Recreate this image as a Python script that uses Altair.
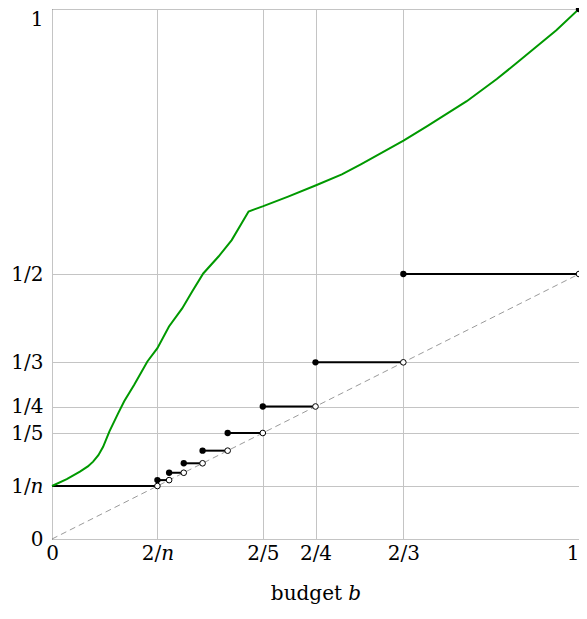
import altair as alt
import pandas as pd

# green curve
curve_x = [0, 0.028, 0.053, 0.068, 0.078, 0.088, 0.097, 0.109, 0.125, 0.137, 0.156, 0.181,
           0.200, 0.222, 0.247, 0.266, 0.287, 0.316, 0.341, 0.373, 0.401, 0.448, 0.500,
           0.550, 0.586, 0.667, 0.712, 0.787, 0.844, 0.881, 0.957, 1.0]
curve_y = [0.1, 0.113, 0.127, 0.137, 0.146, 0.158, 0.174, 0.203, 0.236, 0.260, 0.291, 0.335,
           0.360, 0.401, 0.435, 0.467, 0.501, 0.533, 0.564, 0.618, 0.628, 0.646, 0.667,
           0.688, 0.707, 0.7515, 0.779, 0.826, 0.868, 0.8975, 0.960, 1.0]

# step segments: y level, start x (filled), end x (open)
step_y = [1/2, 1/3, 1/4, 1/5, 1/6, 1/7, 1/8, 1/9, 1/10]
step_x1 = [2/3, 2/4, 2/5, 2/6, 2/7, 2/8, 2/9, 2/10, 0]
step_x2 = [2/2, 2/3, 2/4, 2/5, 2/6, 2/7, 2/8, 2/9, 2/10]

filled_x = [1, 2/3, 2/4, 2/5, 2/6, 2/7, 2/8, 2/9, 2/10]
filled_y = [1, 1/2, 1/3, 1/4, 1/5, 1/6, 1/7, 1/8, 1/9]

diag_x = [0, 1]
diag_y = [0, 0.5]

x_ticks = [0, 2/10, 2/5, 2/4, 2/3, 1]
x_labels = ["0", "2/𝑛", "2/5", "2/4", "2/3", "1"]
y_ticks = [0, 1/10, 1/5, 1/4, 1/3, 1/2, 1]
y_labels = ["0", "1/𝑛", "1/5", "1/4", "1/3", "1/2", "1"]

FONT = "DejaVu Serif"
FS = 20


def label_expr(vals, labs):
    expr = "''"
    for v, l in reversed(list(zip(vals, labs))):
        expr = f"abs(datum.value - {v:.6f}) < 1e-4 ? '{l}' : ({expr})"
    return expr


curve = pd.DataFrame({"x": curve_x, "y": curve_y})
steps = pd.DataFrame({"y": step_y, "x1": step_x1, "x2": step_x2})
filled = pd.DataFrame({"x": filled_x, "y": filled_y})
diag = pd.DataFrame({"x": diag_x, "y": diag_y})

xscale = alt.Scale(domain=[0, 1], nice=False, zero=False)
yscale = alt.Scale(domain=[0, 1], nice=False, zero=False)

xaxis = alt.Axis(values=x_ticks, labelExpr=label_expr(x_ticks, x_labels), title="budget 𝑏",
                 grid=True, gridColor="#c4c4c4", gridWidth=1, ticks=False, domain=False,
                 labelFont=FONT, labelFontSize=FS, labelColor="black", labelFlush=False,
                 labelOverlap=False, labelPadding=4,
                 labelAlign={"condition": {"test": "datum.value > 0.99", "value": "right"},
                             "value": "center"},
                 titleFont=FONT, titleFontSize=FS,
                 titleFontWeight="normal", titleColor="black",
                 titleBaseline="alphabetic", titleY=60)
yaxis = alt.Axis(values=y_ticks, labelExpr=label_expr(y_ticks, y_labels), title=None,
                 grid=True, gridColor="#c4c4c4", gridWidth=1, ticks=False, domain=False,
                 labelFont=FONT, labelFontSize=FS, labelColor="black", labelFlush=False,
                 labelOverlap=False, labelPadding=9,
                 labelBaseline={"condition": {"test": "datum.value > 0.99", "value": "top"},
                                "value": "middle"})

base_x = alt.X("x:Q", scale=xscale, axis=xaxis)
base_y = alt.Y("y:Q", scale=yscale, axis=yaxis)

diag_layer = alt.Chart(diag).mark_line(color="#808080", strokeWidth=0.8, strokeDash=[6, 4]).encode(
    x=base_x, y=base_y)

curve_layer = alt.Chart(curve).mark_line(color="#009900", strokeWidth=2).encode(
    x="x:Q", y="y:Q")

step_layer = alt.Chart(steps).mark_rule(color="black", strokeWidth=2).encode(
    x="x1:Q", x2="x2:Q", y="y:Q")

filled_layer = alt.Chart(filled).mark_point(filled=True, color="black", size=40, opacity=1,
                                            shape="circle").encode(x="x:Q", y="y:Q")

open_layer = alt.Chart(steps).mark_point(filled=True, fill="white", stroke="black", strokeWidth=1,
                                         size=32, opacity=1, shape="circle").encode(
    x="x2:Q", y="y:Q")

chart = alt.layer(diag_layer, step_layer, curve_layer, filled_layer, open_layer).properties(
    width=527, height=530,
    autosize=alt.AutoSizeParams(type="none"),
    padding={"left": 44, "top": 1, "right": 0, "bottom": 66},
).configure_view(stroke="black", strokeWidth=1)

chart.save("out.html", embed_options={"renderer": "svg", "actions": False})
